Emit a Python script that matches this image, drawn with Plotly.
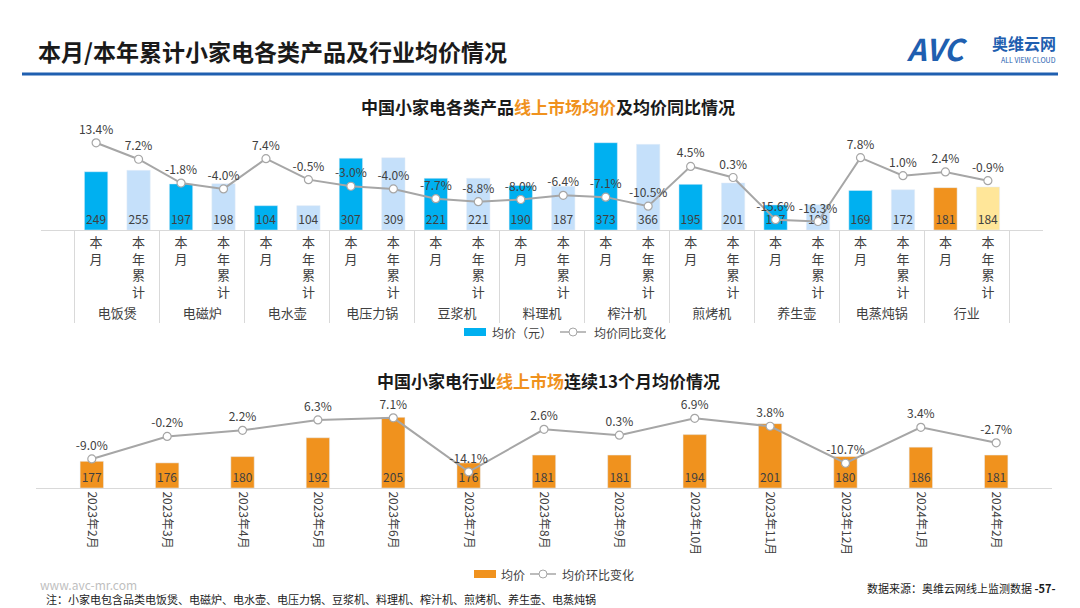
import plotly.graph_objects as go

W, H = 1080, 608
def px(x): return x / W
def py(y): return 1 - y / H

groups = ["电饭煲", "电磁炉", "电水壶", "电压力锅", "豆浆机", "料理机", "榨汁机", "煎烤机", "养生壶", "电蒸炖锅", "行业"]
subs = ["本<br>月", "本<br>年<br>累<br>计"]
price_month = [249, 197, 104, 307, 221, 190, 373, 195, 107, 169, 181]
price_ytd = [255, 198, 104, 309, 221, 187, 366, 201, 108, 172, 184]
yoy_month = [13.4, -1.8, 7.4, -3.0, -7.7, -8.0, -7.1, 4.5, -15.6, 7.8, 2.4]
yoy_ytd = [7.2, -4.0, -0.5, -4.0, -8.8, -6.4, -10.5, 0.3, -16.3, 1.0, -0.9]

months = ["2023年2月", "2023年3月", "2023年4月", "2023年5月", "2023年6月", "2023年7月",
          "2023年8月", "2023年9月", "2023年10月", "2023年11月", "2023年12月", "2024年1月", "2024年2月"]
month_price = [177, 176, 180, 192, 205, 176, 181, 181, 194, 201, 180, 186, 181]
month_mom = [-9.0, -0.2, 2.2, 6.3, 7.1, -14.1, 2.6, 0.3, 6.9, 3.8, -10.7, 3.4, -2.7]
AXIS_MIN = 160

FONT = "Noto Sans CJK SC"
BLUE, LBLUE, ORANGE, LYEL, GRAY = "#00B0F0", "#C5E0FA", "#F0921E", "#FFE699", "#A6A6A6"

xg, xs, pv, yv, cols = [], [], [], [], []
for i, g in enumerate(groups):
    for j, s in enumerate(subs):
        xg.append(g); xs.append(s)
        pv.append(price_month[i] if j == 0 else price_ytd[i])
        yv.append(yoy_month[i] if j == 0 else yoy_ytd[i])
        if g == "行业":
            cols.append(ORANGE if j == 0 else LYEL)
        else:
            cols.append(BLUE if j == 0 else LBLUE)

fig = go.Figure()
fig.add_trace(go.Bar(x=[xg, xs], y=pv, marker_color=cols, name="均价（元）", width=0.55,
                     text=[str(v) for v in pv], textposition="inside", insidetextanchor="start",
                     textangle=0, constraintext="none",
                     textfont=dict(size=12, color="#404040"), xaxis="x", yaxis="y", showlegend=False))
fig.add_trace(go.Scatter(x=[xg, xs], y=yv, mode="lines+markers+text", name="均价同比变化",
                         text=[f"{v:.1f}%" for v in yv], textposition="top center",
                         textfont=dict(size=12, color="#404040"),
                         line=dict(color=GRAY, width=2), marker=dict(size=8, color="white", line=dict(color=GRAY, width=1.2)),
                         xaxis="x", yaxis="y2", showlegend=False))

fig.add_trace(go.Bar(x=months, y=[v - AXIS_MIN for v in month_price], base=AXIS_MIN, marker_color=ORANGE, name="均价",
                     width=0.31, text=[str(v) for v in month_price], textposition="inside", insidetextanchor="start",
                     textangle=0, constraintext="none",
                     textfont=dict(size=12, color="#404040"), xaxis="x2", yaxis="y3", showlegend=False))
fig.add_trace(go.Scatter(x=months, y=month_mom, mode="lines+markers+text", name="均价环比变化",
                         text=[f"{v:.1f}%" for v in month_mom], textposition="top center",
                         textfont=dict(size=12, color="#404040"),
                         line=dict(color=GRAY, width=2), marker=dict(size=8, color="white", line=dict(color=GRAY, width=1.2)),
                         xaxis="x2", yaxis="y4", showlegend=False))

fig.update_layout(
    width=W, height=H, margin=dict(l=0, r=0, t=0, b=0),
    paper_bgcolor="white", plot_bgcolor="rgba(0,0,0,0)",
    font=dict(family=FONT, size=12, color="#404040"),
    xaxis=dict(domain=[px(33), px(1035)], type="multicategory", showline=True, linecolor="#D9D9D9",
               showdividers=True, dividercolor="#D9D9D9", dividerwidth=1, tickfont=dict(size=13, color="#404040"),
               anchor="y"),
    yaxis=dict(domain=[py(222), py(112)], range=[0, 470], visible=False),
    yaxis2=dict(domain=[py(222), py(112)], range=[-19.5, 22.0], overlaying="y", visible=False, anchor="x"),
    xaxis2=dict(domain=[px(28), px(1044)], showline=True, linecolor="#D9D9D9", tickangle=90,
                tickfont=dict(size=12, color="#404040"), anchor="y3"),
    yaxis3=dict(domain=[py(480), py(380)], range=[AXIS_MIN, 223.7], visible=False, anchor="x2"),
    yaxis4=dict(domain=[py(480), py(380)], range=[-20.4, 18.8], overlaying="y3", visible=False, anchor="x2"),
)

shapes = [dict(type="line", xref="paper", yref="paper", x0=px(14), x1=px(1050), y0=py(66), y1=py(66),
               line=dict(color="#1F5FB0", width=3))]
shapes += [
    dict(type="rect", xref="paper", yref="paper", x0=px(456), x1=px(478), y0=py(328), y1=py(320), fillcolor=BLUE, line_width=0),
    dict(type="line", xref="paper", yref="paper", x0=px(552), x1=px(578), y0=py(324), y1=py(324), line=dict(color=GRAY, width=1.5)),
    dict(type="circle", xref="paper", yref="paper", x0=px(561), x1=px(569), y0=py(328), y1=py(320), fillcolor="white", line=dict(color=GRAY, width=1)),
    dict(type="rect", xref="paper", yref="paper", x0=px(466), x1=px(488), y0=py(570), y1=py(562), fillcolor=ORANGE, line_width=0),
    dict(type="line", xref="paper", yref="paper", x0=px(522), x1=px(548), y0=py(566), y1=py(566), line=dict(color=GRAY, width=1.5)),
    dict(type="circle", xref="paper", yref="paper", x0=px(531), x1=px(539), y0=py(570), y1=py(562), fillcolor="white", line=dict(color=GRAY, width=1)),
]
fig.update_layout(shapes=shapes)

def ann(x, y, text, size, color="#404040", anchor="left", bold=False, **kw):
    fig.add_annotation(xref="paper", yref="paper", x=px(x), y=py(y), text=f"<b>{text}</b>" if bold else text,
                       showarrow=False, xanchor=anchor, yanchor="middle", font=dict(size=size, color=color, family=FONT), **kw)

ann(28, 43, "本月/本年累计小家电各类产品及行业均价情况", 23, "#1a1a1a", bold=True)
ann(962, 40, "<b><i>AVC</i></b>", 30, "#1F5FB0", anchor="right")
ann(1050, 35, "<b>奥维云网</b>", 16, "#1F5FB0", anchor="right")
ann(1050, 52, "ALL VIEW CLOUD", 7, "#1F5FB0", anchor="right")
ann(540, 99, "中国小家电各类产品<span style='color:#F0921E'>线上市场均价</span>及均价同比情况", 17, "#1a1a1a", anchor="center", bold=True)
ann(482, 324, "均价（元）", 12)
ann(584, 324, "均价同比变化", 12)
ann(540, 372, "中国小家电行业<span style='color:#F0921E'>线上市场</span>连续13个月均价情况", 17, "#1a1a1a", anchor="center", bold=True)
ann(491, 566, "均价", 12)
ann(552, 566, "均价环比变化", 12)
ann(30, 576, "www.avc-mr.com", 12, "#BFBFBF")
ann(36, 591, "注：小家电包含品类电饭煲、电磁炉、电水壶、电压力锅、豆浆机、料理机、榨汁机、煎烤机、养生壶、电蒸炖锅", 11, "#1a1a1a")
ann(1050, 580, "数据来源：奥维云网线上监测数据 <b>-57-</b>", 11, "#1a1a1a", anchor="right")

fig.write_html("out.html")
